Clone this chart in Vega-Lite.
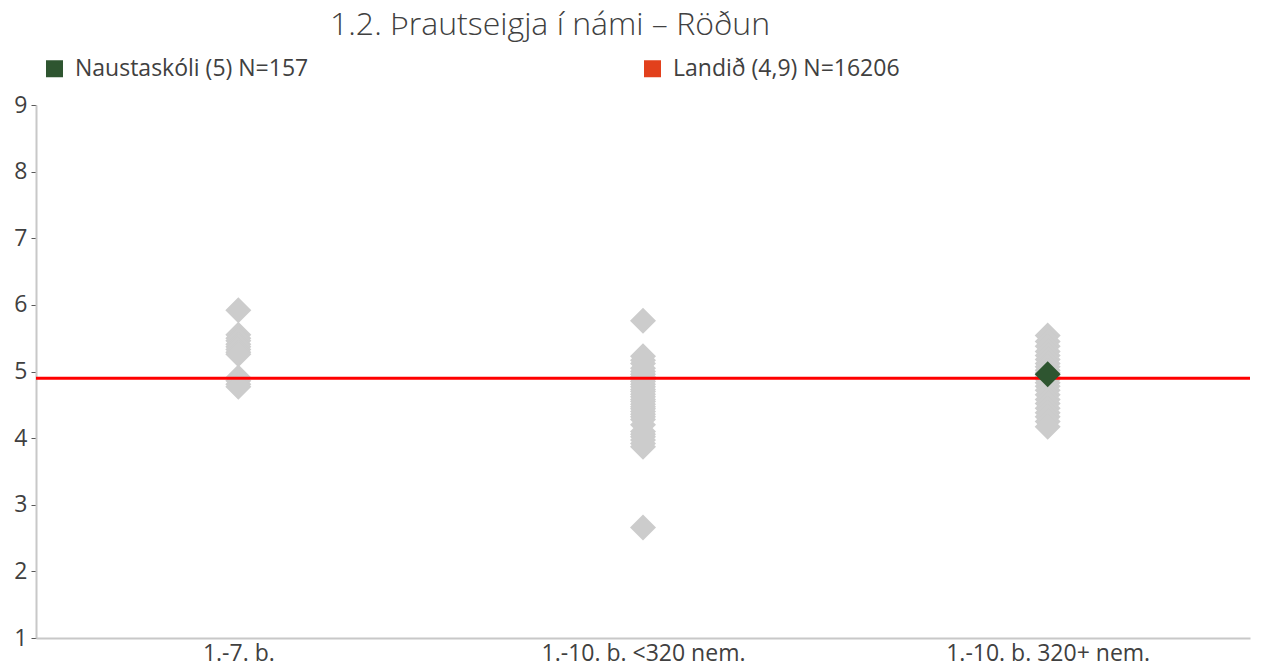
{
  "$schema": "https://vega.github.io/schema/vega-lite/v6.json",
  "autosize": "none",
  "width": 1214,
  "height": 533,
  "padding": {"left": 36, "top": 105, "right": 11, "bottom": 31},
  "background": "white",
  "config": {"view": {"stroke": null}, "font": "Open Sans"},
  "title": {"text": "1.2. Þrautseigja í námi – Röðun", "font": "Open Sans", "fontSize": 32, "fontWeight": 300, "color": "#404040", "anchor": "middle", "dx": -93, "offset": 15, "frame": "group"},
  "data": {"values": [
    {"grp": "1.-7. b.", "value": 5.92, "kind": "other"},
    {"grp": "1.-7. b.", "value": 5.55, "kind": "other"},
    {"grp": "1.-7. b.", "value": 5.5, "kind": "other"},
    {"grp": "1.-7. b.", "value": 5.46, "kind": "other"},
    {"grp": "1.-7. b.", "value": 5.41, "kind": "other"},
    {"grp": "1.-7. b.", "value": 5.37, "kind": "other"},
    {"grp": "1.-7. b.", "value": 5.33, "kind": "other"},
    {"grp": "1.-7. b.", "value": 5.29, "kind": "other"},
    {"grp": "1.-7. b.", "value": 5.26, "kind": "other"},
    {"grp": "1.-7. b.", "value": 4.91, "kind": "other"},
    {"grp": "1.-7. b.", "value": 4.86, "kind": "other"},
    {"grp": "1.-7. b.", "value": 4.81, "kind": "other"},
    {"grp": "1.-7. b.", "value": 4.77, "kind": "other"},
    {"grp": "1.-10. b. <320 nem.", "value": 5.76, "kind": "other"},
    {"grp": "1.-10. b. <320 nem.", "value": 5.23, "kind": "other"},
    {"grp": "1.-10. b. <320 nem.", "value": 5.17, "kind": "other"},
    {"grp": "1.-10. b. <320 nem.", "value": 5.12, "kind": "other"},
    {"grp": "1.-10. b. <320 nem.", "value": 5.05, "kind": "other"},
    {"grp": "1.-10. b. <320 nem.", "value": 5.0, "kind": "other"},
    {"grp": "1.-10. b. <320 nem.", "value": 4.96, "kind": "other"},
    {"grp": "1.-10. b. <320 nem.", "value": 4.92, "kind": "other"},
    {"grp": "1.-10. b. <320 nem.", "value": 4.88, "kind": "other"},
    {"grp": "1.-10. b. <320 nem.", "value": 4.85, "kind": "other"},
    {"grp": "1.-10. b. <320 nem.", "value": 4.81, "kind": "other"},
    {"grp": "1.-10. b. <320 nem.", "value": 4.77, "kind": "other"},
    {"grp": "1.-10. b. <320 nem.", "value": 4.73, "kind": "other"},
    {"grp": "1.-10. b. <320 nem.", "value": 4.7, "kind": "other"},
    {"grp": "1.-10. b. <320 nem.", "value": 4.66, "kind": "other"},
    {"grp": "1.-10. b. <320 nem.", "value": 4.62, "kind": "other"},
    {"grp": "1.-10. b. <320 nem.", "value": 4.58, "kind": "other"},
    {"grp": "1.-10. b. <320 nem.", "value": 4.55, "kind": "other"},
    {"grp": "1.-10. b. <320 nem.", "value": 4.51, "kind": "other"},
    {"grp": "1.-10. b. <320 nem.", "value": 4.47, "kind": "other"},
    {"grp": "1.-10. b. <320 nem.", "value": 4.44, "kind": "other"},
    {"grp": "1.-10. b. <320 nem.", "value": 4.4, "kind": "other"},
    {"grp": "1.-10. b. <320 nem.", "value": 4.36, "kind": "other"},
    {"grp": "1.-10. b. <320 nem.", "value": 4.32, "kind": "other"},
    {"grp": "1.-10. b. <320 nem.", "value": 4.28, "kind": "other"},
    {"grp": "1.-10. b. <320 nem.", "value": 4.2, "kind": "other"},
    {"grp": "1.-10. b. <320 nem.", "value": 4.1, "kind": "other"},
    {"grp": "1.-10. b. <320 nem.", "value": 4.06, "kind": "other"},
    {"grp": "1.-10. b. <320 nem.", "value": 4.02, "kind": "other"},
    {"grp": "1.-10. b. <320 nem.", "value": 3.97, "kind": "other"},
    {"grp": "1.-10. b. <320 nem.", "value": 3.92, "kind": "other"},
    {"grp": "1.-10. b. <320 nem.", "value": 3.87, "kind": "other"},
    {"grp": "1.-10. b. <320 nem.", "value": 2.66, "kind": "other"},
    {"grp": "1.-10. b. 320+ nem.", "value": 5.54, "kind": "other"},
    {"grp": "1.-10. b. 320+ nem.", "value": 5.45, "kind": "other"},
    {"grp": "1.-10. b. 320+ nem.", "value": 5.38, "kind": "other"},
    {"grp": "1.-10. b. 320+ nem.", "value": 5.3, "kind": "other"},
    {"grp": "1.-10. b. 320+ nem.", "value": 5.24, "kind": "other"},
    {"grp": "1.-10. b. 320+ nem.", "value": 5.18, "kind": "other"},
    {"grp": "1.-10. b. 320+ nem.", "value": 5.12, "kind": "other"},
    {"grp": "1.-10. b. 320+ nem.", "value": 5.07, "kind": "other"},
    {"grp": "1.-10. b. 320+ nem.", "value": 5.02, "kind": "other"},
    {"grp": "1.-10. b. 320+ nem.", "value": 4.98, "kind": "other"},
    {"grp": "1.-10. b. 320+ nem.", "value": 4.93, "kind": "other"},
    {"grp": "1.-10. b. 320+ nem.", "value": 4.88, "kind": "other"},
    {"grp": "1.-10. b. 320+ nem.", "value": 4.83, "kind": "other"},
    {"grp": "1.-10. b. 320+ nem.", "value": 4.78, "kind": "other"},
    {"grp": "1.-10. b. 320+ nem.", "value": 4.72, "kind": "other"},
    {"grp": "1.-10. b. 320+ nem.", "value": 4.65, "kind": "other"},
    {"grp": "1.-10. b. 320+ nem.", "value": 4.58, "kind": "other"},
    {"grp": "1.-10. b. 320+ nem.", "value": 4.52, "kind": "other"},
    {"grp": "1.-10. b. 320+ nem.", "value": 4.45, "kind": "other"},
    {"grp": "1.-10. b. 320+ nem.", "value": 4.38, "kind": "other"},
    {"grp": "1.-10. b. 320+ nem.", "value": 4.32, "kind": "other"},
    {"grp": "1.-10. b. 320+ nem.", "value": 4.25, "kind": "other"},
    {"grp": "1.-10. b. 320+ nem.", "value": 4.17, "kind": "other"},
    {"grp": "1.-10. b. 320+ nem.", "value": 4.96, "kind": "school", "series": "Naustaskóli (5) N=157"},
    {"grp": "1.-10. b. 320+ nem.", "value": 4.9, "kind": "national", "series": "Landið (4,9) N=16206"}
  ]},
  "layer": [
    {
      "transform": [{"filter": "datum.kind === 'other'"}],
      "mark": {"type": "point", "shape": "diamond", "filled": true, "size": 676, "opacity": 1, "color": "#cccccc"},
      "encoding": {
        "x": {"field": "grp", "type": "nominal", "sort": ["1.-7. b.", "1.-10. b. <320 nem.", "1.-10. b. 320+ nem."], "scale": {"paddingInner": 0, "paddingOuter": 0},
          "axis": {"title": null, "labelAngle": 0, "ticks": false, "domainColor": "#c8c8c8", "domainWidth": 2, "labelFontSize": 23, "labelColor": "#404040", "labelPadding": 4, "labelFont": "Open Sans", "labelLimit": 400}},
        "y": {"field": "value", "type": "quantitative", "scale": {"domain": [1, 9], "nice": false, "zero": false},
          "axis": {"title": null, "values": [1, 2, 3, 4, 5, 6, 7, 8, 9], "format": "d", "grid": false, "tickSize": 5, "tickColor": "#595959", "tickWidth": 1, "domainColor": "#c8c8c8", "domainWidth": 2, "labelFontSize": 23, "labelColor": "#404040", "labelPadding": 4, "labelFont": "Open Sans"}}
      }
    },
    {
      "transform": [{"filter": "datum.kind === 'national'"}],
      "mark": {"type": "rule", "color": "#ff0000", "strokeWidth": 3},
      "encoding": {"y": {"field": "value", "type": "quantitative"}}
    },
    {
      "transform": [{"filter": "datum.kind === 'school'"}],
      "mark": {"type": "point", "shape": "diamond", "filled": true, "size": 676, "opacity": 1},
      "encoding": {
        "x": {"field": "grp", "type": "nominal", "sort": ["1.-7. b.", "1.-10. b. <320 nem.", "1.-10. b. 320+ nem."]},
        "y": {"field": "value", "type": "quantitative"},
        "color": {"field": "series", "type": "nominal",
          "scale": {"domain": ["Naustaskóli (5) N=157", "Landið (4,9) N=16206"], "range": ["#2e5530", "#e2401c"]},
          "legend": {"title": null, "orient": "none", "legendX": 7, "legendY": -48, "direction": "horizontal", "columns": 2, "columnPadding": 332, "symbolType": "square", "symbolSize": 289, "symbolStrokeWidth": 0, "symbolOpacity": 1, "labelFontSize": 23, "labelColor": "#404040", "labelOffset": 9, "labelFont": "Open Sans", "labelLimit": 400}}
      }
    }
  ]
}
